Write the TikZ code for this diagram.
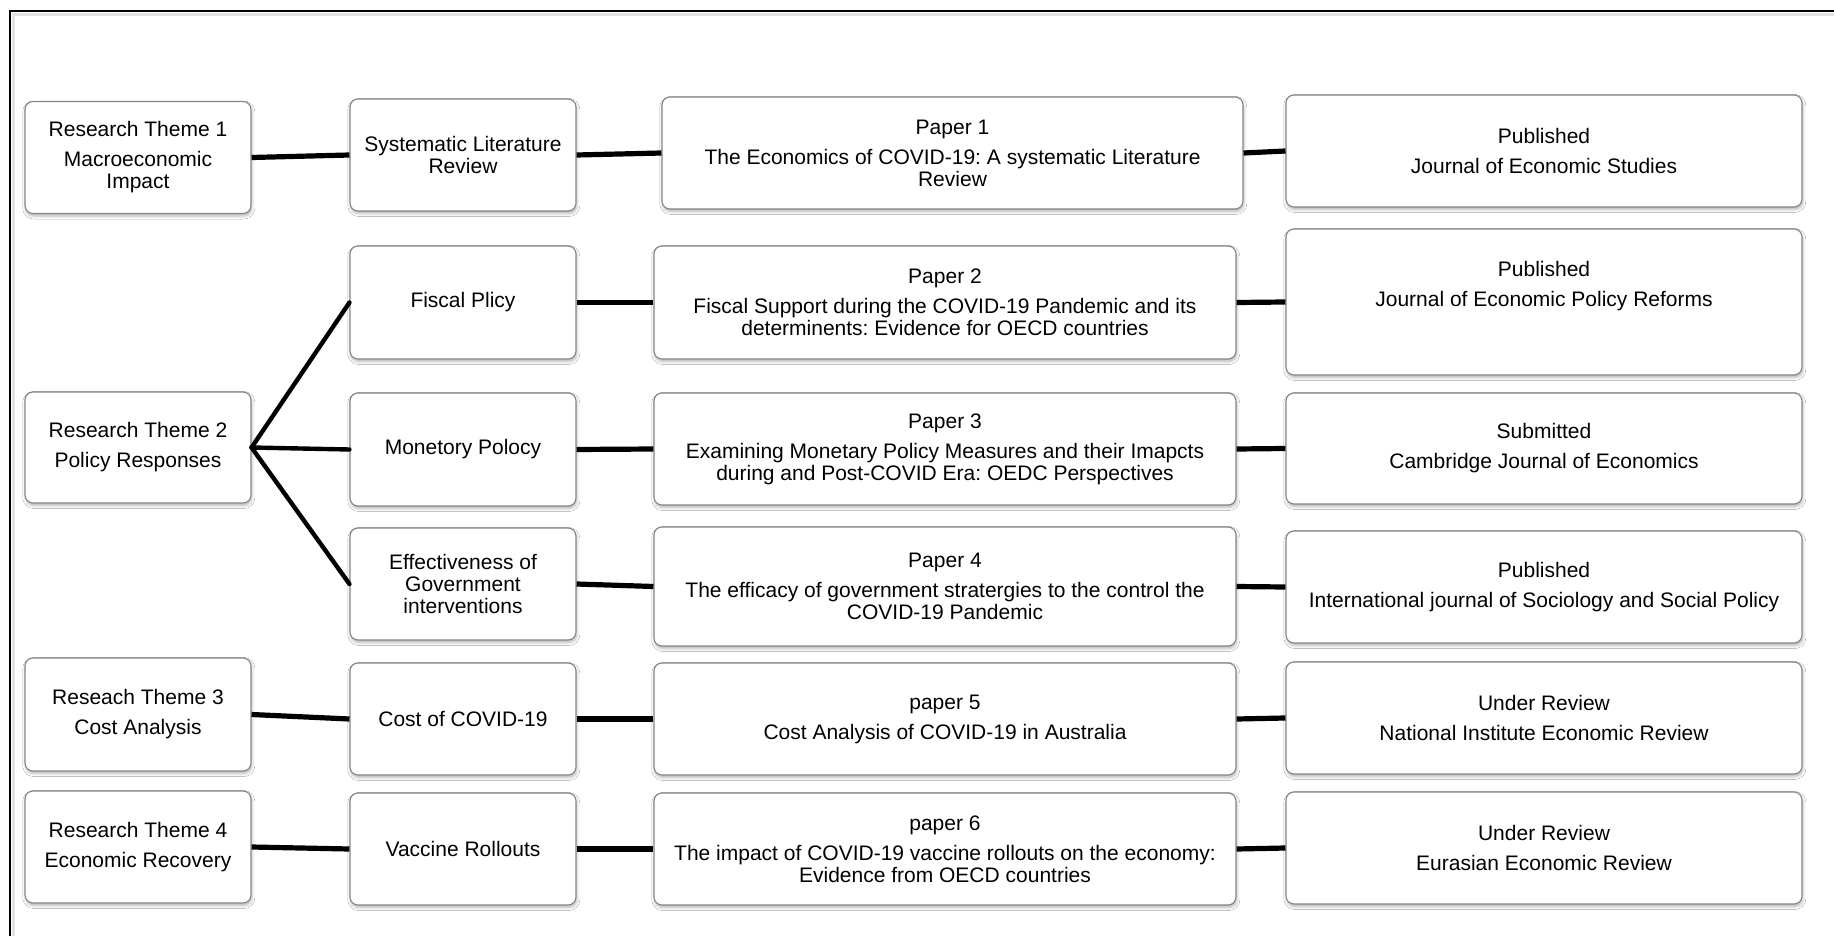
\documentclass[tikz,border=0pt]{standalone}
\usepackage{fontspec}
\setmainfont{Liberation Sans}
\usetikzlibrary{shadows.blur}
\definecolor{boxgray}{HTML}{858585}
\frenchspacing
\begin{document}
\begin{tikzpicture}[x=1pt,y=-1pt,
  txt/.style={align=center, inner sep=1pt, font=\fontsize{21}{22}\selectfont},
  box/.style={txt, draw=boxgray, line width=1.1pt, rounded corners=8pt, fill=white,
    blur shadow={shadow xshift=0.8pt, shadow yshift=-2.5pt, shadow blur radius=3pt, shadow opacity=30}},
  tbox/.style={box, minimum width=226pt, minimum height=112pt},
  cbox/.style={box, minimum width=226pt, minimum height=112pt},
  pbox/.style={box, minimum width=582pt, minimum height=112pt},
  jbox/.style={box, minimum width=516pt, minimum height=112pt},
  link/.style={line width=5.2pt, black},
  fan/.style={line width=4.4pt, black, line cap=round}]
\useasboundingbox (0,0) rectangle (1834,936);
\fill[white] (0,0) rectangle (1834,936);
% frame
\draw[gray!22, line width=3pt] (13.5,936) -- (13.5,14.5) -- (1834,14.5);
\draw[black, line width=2.5pt] (10,936) -- (10,11) -- (1834,11);

% column 1: themes
\node[tbox] (th1) at (138,157.5) {Research Theme 1\\[8pt]Macroeconomic\\Impact};
\node[tbox, minimum height=111pt] (th2) at (138,447.5) {Research Theme 2\\[8pt]Policy Responses};
\node[tbox, minimum height=113pt] (th3) at (138,714.5) {Reseach Theme 3\\[8pt]Cost Analysis};
\node[tbox] (th4) at (138,847) {Research Theme 4\\[8pt]Economic Recovery};

% column 2: topics
\node[cbox] (slr) at (463,155) {Systematic Literature\\Review};
\node[cbox, minimum height=113pt] (fis) at (463,302.5) {Fiscal Plicy};
\node[cbox, minimum height=113pt] (mon) at (463,449.5) {Monetory Polocy};
\node[cbox] (eff) at (463,584) {Effectiveness of\\Government\\interventions};
\node[cbox] (cost) at (463,719) {Cost of COVID-19};
\node[cbox] (vac) at (463,849) {Vaccine Rollouts};

% column 3: papers
\node[pbox, minimum width=581pt] (p1) at (952.5,153) {Paper 1\\[8pt]The Economics of COVID-19: A systematic Literature\\Review};
\node[pbox, minimum height=113pt] (p2) at (945,302.5) {Paper 2\\[8pt]Fiscal Support during the COVID-19 Pandemic and its\\determinents: Evidence for OECD countries};
\node[pbox] (p3) at (945,449) {Paper 3\\[8pt]Examining Monetary Policy Measures and their Imapcts\\during and Post-COVID Era: OEDC Perspectives};
\node[pbox, minimum height=119pt] (p4) at (945,586.5) {Paper 4\\[8pt]The efficacy of government stratergies to the control the\\COVID-19 Pandemic};
\node[pbox] (p5) at (945,719) {paper 5\\[8pt]Cost Analysis of COVID-19 in Australia};
\node[pbox] (p6) at (945,849) {paper 6\\[8pt]The impact of COVID-19 vaccine rollouts on the economy:\\Evidence from OECD countries};

% column 4: outlets
\node[jbox] (j1) at (1544,151) {Published\\[8pt]Journal of Economic Studies};
\node[jbox, minimum height=146pt] (j2) at (1544,302) {};
\node[txt] (j2t) at (1544,286) {Published\\[8pt]Journal of Economic Policy Reforms};
\node[jbox, minimum height=111pt] (j3) at (1544,448.5) {Submitted\\[8pt]Cambridge Journal of Economics};
\node[jbox] (j4) at (1544,587) {Published\\[8pt]International journal of Sociology and Social Policy};
\node[jbox] (j5) at (1544,718) {Under Review\\[8pt]National Institute Economic Review};
\node[jbox] (j6) at (1544,848) {Under Review\\[8pt]Eurasian Economic Review};

% connectors
\draw[link] (th1.east) -- (slr.west);
\draw[link] (slr.east) -- (p1.west);
\draw[link] (p1.east) -- (j1.west);

\draw[fan] (th2.east) -- (fis.west);
\draw[fan] (th2.east) -- (mon.west);
\draw[fan] (th2.east) -- (eff.west);

\draw[link] (fis.east) -- (p2.west);
\draw[link] (p2.east) -- (j2.west);
\draw[link] (mon.east) -- (p3.west);
\draw[link] (p3.east) -- (j3.west);
\draw[link] (eff.east) -- (p4.west);
\draw[link] (p4.east) -- (j4.west);

\draw[link] (th3.east) -- (cost.west);
\draw[link] (cost.east) -- (p5.west);
\draw[link] (p5.east) -- (j5.west);

\draw[link] (th4.east) -- (vac.west);
\draw[link] (vac.east) -- (p6.west);
\draw[link] (p6.east) -- (j6.west);
\end{tikzpicture}
\end{document}
